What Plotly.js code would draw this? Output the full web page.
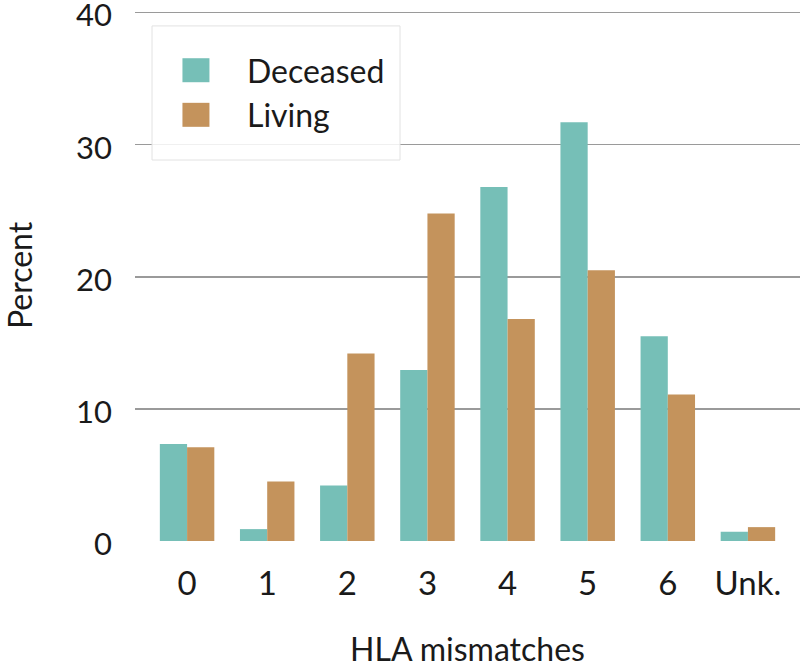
<!DOCTYPE html>
<html>
<head>
<meta charset="utf-8">
<script src="https://cdn.plot.ly/plotly-3.0.1.min.js"></script>
<style>html,body{margin:0;padding:0;background:#fff;}#chart{width:800px;height:668px;}</style>
</head>
<body>
<div id="chart"></div>
<script>
const categories = ["0", "1", "2", "3", "4", "5", "6", "Unk."];
const deceased = [7.35, 0.9, 4.2, 12.95, 26.8, 31.7, 15.5, 0.7];
const living = [7.1, 4.5, 14.2, 24.8, 16.8, 20.5, 11.1, 1.05];
const yTicks = [0, 10, 20, 30, 40];

const font = "Lato, 'Open Sans', sans-serif";
const ink = "#1a1a1a";

const traces = [
  {type: "bar", name: "Deceased", x: categories, y: deceased,
   marker: {color: "#76BFB7"}, hoverinfo: "y"},
  {type: "bar", name: "Living", x: categories, y: living,
   marker: {color: "#C4935C"}, hoverinfo: "y"}
];

const layout = {
  width: 800, height: 668,
  margin: {l: 135, r: 0, t: 10, b: 127},
  paper_bgcolor: "#fff", plot_bgcolor: "#fff",
  font: {family: font, color: ink, size: 32},
  barmode: "group",
  bargap: 0.32,
  bargroupgap: 0,
  showlegend: true,
  legend: {
    x: 0.03, y: 0.938, xanchor: "left", yanchor: "top",
    bgcolor: "rgba(0,0,0,0)", borderwidth: 0,
    font: {family: font, size: 32, color: ink},
    traceorder: "normal", itemwidth: 82
  },
  shapes: [{
    type: "rect", xref: "paper", yref: "paper", layer: "above",
    x0: 0.0256, x1: 0.3985, y0: 0.7175, y1: 0.970,
    fillcolor: "rgba(255,255,255,0.85)", line: {color: "#e2e2e2", width: 1}
  }],
  xaxis: {
    type: "category", range: [-0.65, 7.65],
    tickfont: {family: font, size: 33, color: ink},
    showgrid: false, zeroline: false, showline: false, ticks: "",
    ticklabelstandoff: 20,
    title: {text: "HLA mismatches", font: {family: font, size: 32, color: ink}, standoff: 45}
  },
  yaxis: {
    range: [0, 40.2], tickvals: yTicks, ticktext: yTicks.map(String),
    showgrid: true, gridcolor: "#9a9a9a", gridwidth: 1.5,
    zeroline: false, showline: false, ticks: "",
    ticklabelstandoff: 22, ticklabeloverflow: "allow", ticklabelshift: 3,
    tickfont: {family: font, size: 31, color: ink},
    title: {text: "Percent", font: {family: font, size: 32, color: ink}, standoff: 40}
  }
};

Plotly.newPlot("chart", traces, layout, {displayModeBar: false, staticPlot: true}).then(function(gd){
  document.querySelectorAll(".legend .legendpoints path").forEach(function(p){
    p.setAttribute("transform", "translate(41,0) scale(2.25,2)");
    p.style.strokeWidth = "0";
  });
});
</script>
</body>
</html>
